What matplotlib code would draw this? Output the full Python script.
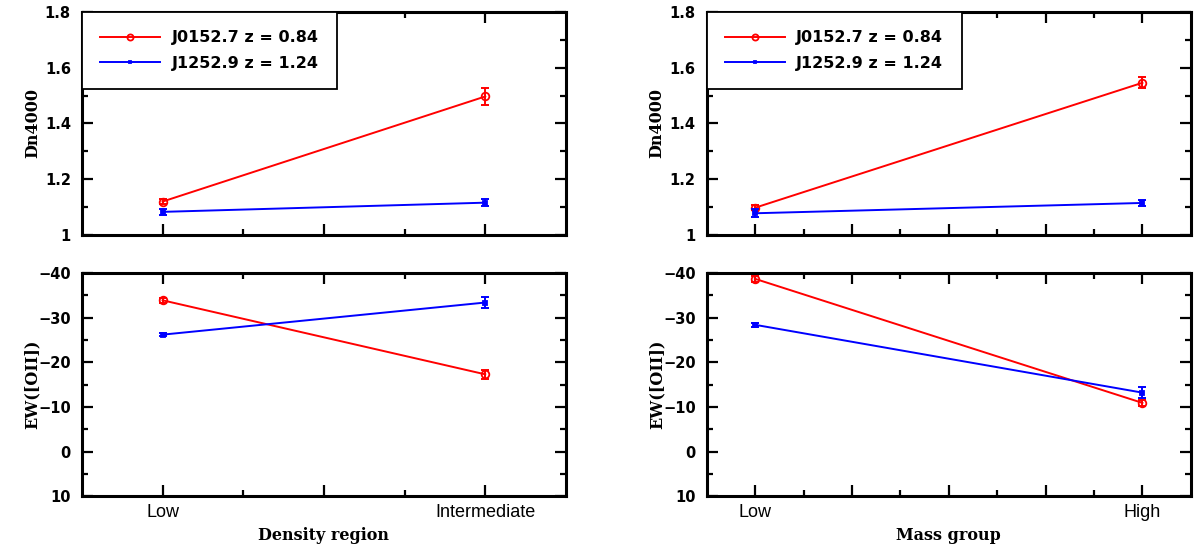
import matplotlib
matplotlib.use('Agg')
import matplotlib.pyplot as plt
from matplotlib.font_manager import FontProperties
from matplotlib.ticker import MultipleLocator, FixedLocator

# category labels of the two columns
DENSITY_LABELS = ['Low', 'Intermediate']
MASS_LABELS = ['Low', 'High']
CLUSTERS = ['J0152.7 z = 0.84', 'J1252.9 z = 1.24']

# Dn4000 and EW([OII]) by density region
dn_density_j0152 = [1.120, 1.497]
dn_density_j0152_err = [0.008, 0.032]
dn_density_j1252 = [1.083, 1.116]
dn_density_j1252_err = [0.012, 0.012]
ew_density_j0152 = [-33.9, -17.3]
ew_density_j0152_err = [0.5, 1.0]
ew_density_j1252 = [-26.2, -33.4]
ew_density_j1252_err = [0.4, 1.2]

# Dn4000 and EW([OII]) by mass group
dn_mass_j0152 = [1.098, 1.546]
dn_mass_j0152_err = [0.010, 0.020]
dn_mass_j1252 = [1.078, 1.115]
dn_mass_j1252_err = [0.014, 0.012]
ew_mass_j0152 = [-38.7, -10.9]
ew_mass_j0152_err = [0.6, 0.7]
ew_mass_j1252 = [-28.4, -13.2]
ew_mass_j1252_err = [0.4, 1.2]

NUM_FONT = FontProperties(family='DejaVu Sans', weight='bold', size=10.5)
LABEL_FONT = dict(family='DejaVu Serif', weight='bold', size=11.5)

fig = plt.figure(figsize=(11.98, 5.44), dpi=100)


def style_axes(ax, xlim, major, minor):
    ax.set_xlim(*xlim)
    ax.xaxis.set_major_locator(FixedLocator(major))
    ax.xaxis.set_minor_locator(FixedLocator(minor))
    ax.tick_params(which='both', direction='in', top=True, right=True, width=1.6)
    ax.tick_params(which='major', length=8)
    ax.tick_params(which='minor', length=4)
    ax.tick_params(axis='y', pad=8)
    for sp in ax.spines.values():
        sp.set_linewidth(2.2)
    for lab in ax.get_yticklabels():
        lab.set_fontproperties(NUM_FONT)


def plot_series(ax, y, yerr, color, marker, ms, mfc, label=None):
    x = list(range(len(y)))
    ax.errorbar(x, y, yerr=yerr, fmt='none', ecolor=color, elinewidth=1.4,
                capsize=3, capthick=1.4)
    ax.plot(x, y, color=color, marker=marker, ms=ms, mfc=mfc, mec=color,
            mew=1.3, lw=1.4, label=label)


def make_column(left, labels, xlim, major, minor, xlabel,
                dn_a, dn_a_err, dn_b, dn_b_err, ew_a, ew_a_err, ew_b, ew_b_err):
    ax_top = fig.add_axes([left, 0.568, 0.404, 0.410])
    ax_bot = fig.add_axes([left, 0.088, 0.404, 0.410])

    plot_series(ax_top, dn_a, dn_a_err, 'red', 'o', 5.5, 'none', CLUSTERS[0])
    plot_series(ax_top, dn_b, dn_b_err, 'blue', 's', 2.5, 'blue', CLUSTERS[1])
    ax_top.set_ylim(1, 1.8)
    ax_top.set_yticks([1, 1.2, 1.4, 1.6, 1.8], ['1', '1.2', '1.4', '1.6', '1.8'])
    ax_top.yaxis.set_minor_locator(MultipleLocator(0.1))
    style_axes(ax_top, xlim, major, minor)
    ax_top.set_xticklabels([])
    ax_top.set_ylabel('Dn4000', **LABEL_FONT)
    leg = ax_top.legend(loc='upper left', bbox_to_anchor=(0, 1), borderaxespad=0,
                        fancybox=False, edgecolor='black', framealpha=1,
                        handlelength=3.75, handletextpad=0.7, borderpad=1.15,
                        labelspacing=0.65, markerscale=0.8,
                        prop=FontProperties(family='DejaVu Sans', weight='bold', size=11.5))
    leg.get_frame().set_linewidth(1.3)

    plot_series(ax_bot, ew_a, ew_a_err, 'red', 'o', 5.5, 'none')
    plot_series(ax_bot, ew_b, ew_b_err, 'blue', 's', 2.5, 'blue')
    ax_bot.set_ylim(10, -40)
    ax_bot.yaxis.set_major_locator(MultipleLocator(10))
    ax_bot.yaxis.set_minor_locator(MultipleLocator(5))
    style_axes(ax_bot, xlim, major, minor)
    ticklabels = [labels[0]] + [''] * (len(major) - 2) + [labels[1]]
    ax_bot.set_xticklabels(ticklabels, family='Liberation Sans', size=13)
    ax_bot.tick_params(axis='x', pad=6)
    ax_bot.set_ylabel('EW([OII])', **LABEL_FONT)
    ax_bot.set_xlabel(xlabel, labelpad=4, **LABEL_FONT)
    for ax in (ax_top, ax_bot):
        ax.yaxis.set_label_coords(-0.085, 0.5)


make_column(0.0684, DENSITY_LABELS, (-0.25, 1.25), [0, 0.5, 1], [0.25, 0.75],
            'Density region',
            dn_density_j0152, dn_density_j0152_err, dn_density_j1252, dn_density_j1252_err,
            ew_density_j0152, ew_density_j0152_err, ew_density_j1252, ew_density_j1252_err)

make_column(0.590, MASS_LABELS, (-0.125, 1.125), [0, 0.25, 0.5, 0.75, 1],
            [0.125, 0.375, 0.625, 0.875], 'Mass group',
            dn_mass_j0152, dn_mass_j0152_err, dn_mass_j1252, dn_mass_j1252_err,
            ew_mass_j0152, ew_mass_j0152_err, ew_mass_j1252, ew_mass_j1252_err)

fig.savefig('out.png', dpi=100)
